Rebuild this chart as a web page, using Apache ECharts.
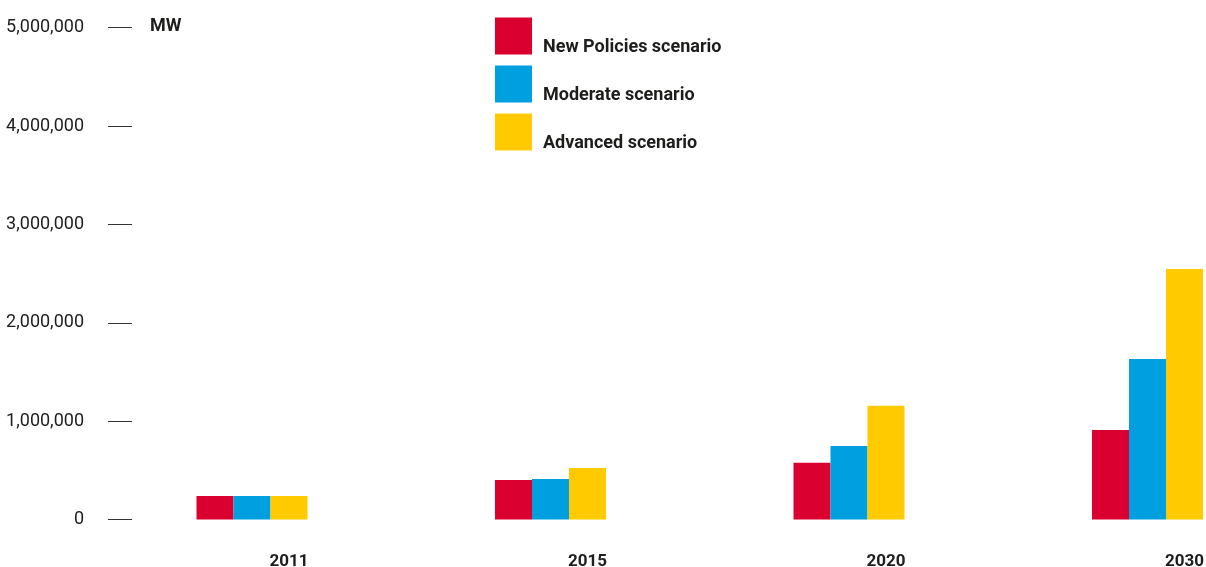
<!DOCTYPE html>
<html>
<head>
<meta charset="utf-8">
<script src="https://cdn.jsdelivr.net/npm/echarts@6/dist/echarts.min.js"></script>
<style>
html,body{margin:0;padding:0;background:#fff;}
#chart{width:1206px;height:567px;}
</style>
</head>
<body>
<div id="chart"></div>
<script>
const categories = ['2011', '2015', '2020', '2030'];
const seriesNames = ['New Policies scenario', 'Moderate scenario', 'Advanced scenario'];
const newPolicies = [239000, 402000, 577000, 910000];
const moderate = [239000, 412000, 747000, 1632000];
const advanced = [239000, 524000, 1157000, 2547000];
const yTicks = [0, 1000000, 2000000, 3000000, 4000000, 5000000];
const unitLabel = 'MW';

const FONT = 'Roboto, "Liberation Sans", sans-serif';
const colors = ['#DA0030', '#009FDF', '#FFCB00'];
const textColor = '#1d1d1b';

const chart = echarts.init(document.getElementById('chart'));
chart.setOption({
  animation: false,
  backgroundColor: '#ffffff',
  color: colors,
  title: {
    text: unitLabel,
    left: 150,
    top: 17,
    padding: 0,
    textStyle: { fontFamily: FONT, fontSize: 18, fontWeight: 'bold', color: textColor }
  },
  legend: {
    orient: 'vertical',
    left: 495,
    top: 16,
    padding: 0,
    itemWidth: 37,
    itemHeight: 37,
    itemGap: 8,
    icon: 'rect',
    data: seriesNames,
    selectedMode: false,
    formatter: name => '{a|' + name + '}',
    textStyle: {
      fontFamily: FONT, fontSize: 18, fontWeight: 'bold', color: textColor,
      rich: {
        a: {
          fontFamily: FONT, fontSize: 18, fontWeight: 'bold', color: textColor,
          lineHeight: 20, padding: [22, 0, 0, 6]
        }
      }
    }
  },
  grid: {
    left: 102.75,
    right: -90.75,
    top: 27.7,
    bottom: 47.5,
    outerBoundsMode: 'none',
    containLabel: false
  },
  xAxis: {
    type: 'category',
    data: categories,
    axisLine: { show: false },
    axisTick: { show: false },
    axisLabel: {
      fontFamily: FONT, fontSize: 17, fontWeight: 'bold', color: textColor,
      margin: 34, padding: [0, 0, 0, 74]
    }
  },
  yAxis: {
    type: 'value',
    min: yTicks[0],
    max: yTicks[yTicks.length - 1],
    interval: yTicks[1] - yTicks[0],
    offset: -5.25,
    axisLine: { show: false },
    splitLine: { show: false },
    axisTick: { show: true, inside: true, length: 24, lineStyle: { color: '#333333', width: 1 } },
    axisLabel: {
      fontFamily: FONT, fontSize: 18, color: textColor, margin: 24,
      padding: [0, 0, 4, 0],
      formatter: v => Number(v).toLocaleString('en-US')
    }
  },
  series: [
    { name: seriesNames[0], type: 'bar', data: newPolicies, barWidth: 37, barGap: '0%' },
    { name: seriesNames[1], type: 'bar', data: moderate, barWidth: 37, barGap: '0%' },
    { name: seriesNames[2], type: 'bar', data: advanced, barWidth: 37, barGap: '0%' }
  ]
});
</script>
</body>
</html>
